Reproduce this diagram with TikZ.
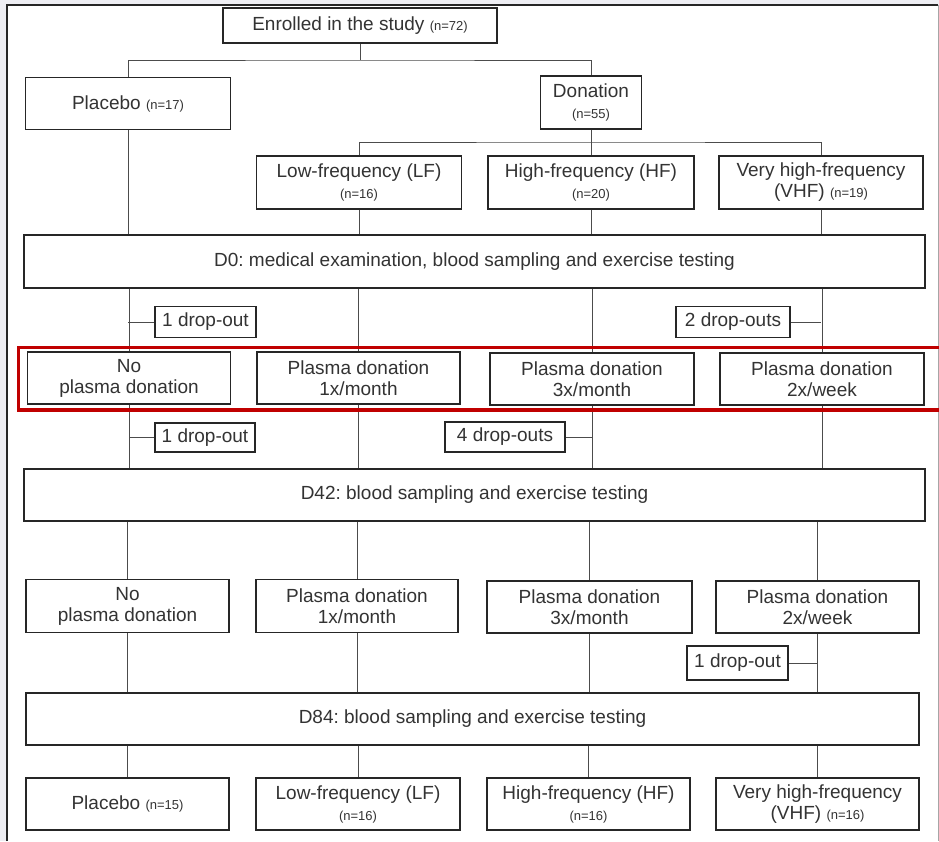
\documentclass[tikz,border=0pt]{standalone}
\usepackage{fontspec}
\setmainfont{Liberation Sans}
\usepackage{xcolor}
\usepackage{tikz}
\usetikzlibrary{positioning}
\definecolor{pagegray}{HTML}{EEEEF3}
\definecolor{markred}{HTML}{C00000}
\newcommand{\nsm}[1]{{\fontsize{13}{15}\selectfont #1}}
\frenchspacing
\tikzset{
  box/.style={draw=black!85, line width=1.2pt, fill=white, align=center, text=black!80,
    font=\fontsize{19}{21}\selectfont, minimum height=52pt, inner sep=1pt},
  dropbox/.style={box, minimum height=31pt},
  conn/.style={draw=black!70, line width=1pt}
}
\begin{document}
\begin{tikzpicture}[x=1pt,y=-1pt]
\useasboundingbox (0,0) rectangle (939,841);
\fill[pagegray] (0,0) rectangle (939,841);
\fill[white] (7,5) rectangle (938,841);
\draw[line width=0.8pt, black!35] (938,5) -- (938,841);
\draw[line width=2pt, black!85] (7,841) -- (7,5) -- (938,5);

\node[box, minimum width=274pt, minimum height=35pt] (enrol) at (360,25.5) {Enrolled in the study \nsm{(n=72)}};
\node[box, minimum width=205pt] (plac) at (128,103.5) {Placebo \nsm{(n=17)}};
\node[box, minimum width=101pt, minimum height=53pt] (don) at (591,102.5) {Donation\\\nsm{(n=55)}};
\node[box, minimum width=205pt, minimum height=53pt] (lf) at (359,182.5) {Low-frequency (LF)\\\nsm{(n=16)}};
\node[box, minimum width=206pt, minimum height=53pt] (hf) at (591,182.5) {High-frequency (HF)\\\nsm{(n=20)}};
\node[box, minimum width=204pt, minimum height=53pt] (vhf) at (821,182.5) {Very high-frequency\\(VHF) \nsm{(n=19)}};
\node[box, minimum width=901pt, minimum height=53pt] (d0) at (474.5,261.5) {D0: medical examination, blood sampling and exercise testing};
\node[dropbox, minimum width=101pt] (do1) at (205.5,322) {1 drop-out};
\node[dropbox, minimum width=114pt] (do2) at (733,322) {2 drop-outs};

\node[box, minimum width=203pt] (no1) at (129,378) {No\\plasma donation};
\node[box, minimum width=203pt] (m1a) at (358.5,378) {Plasma donation\\1x/month};
\node[box, minimum width=204pt] (m3a) at (592,379) {Plasma donation\\3x/month};
\node[box, minimum width=204pt] (w2a) at (822,379) {Plasma donation\\2x/week};
\node[dropbox, minimum width=100pt, minimum height=29pt] (do3) at (205,437.5) {1 drop-out};
\node[dropbox, minimum width=120pt, minimum height=30pt] (do4) at (505,437) {4 drop-outs};
\node[box, minimum width=901pt] (d42) at (474.5,495) {D42: blood sampling and exercise testing};

\node[box, minimum width=203pt, minimum height=53pt] (no2) at (127.5,606) {No\\plasma donation};
\node[box, minimum width=202pt, minimum height=53pt] (m1b) at (357,606) {Plasma donation\\1x/month};
\node[box, minimum width=205pt] (m3b) at (589.5,607) {Plasma donation\\3x/month};
\node[box, minimum width=203pt] (w2b) at (817.5,607) {Plasma donation\\2x/week};
\node[dropbox, minimum width=101pt, minimum height=34pt] (do5) at (737.5,663) {1 drop-out};
\node[box, minimum width=893pt] (d84) at (472.5,719) {D84: blood sampling and exercise testing};

\node[box, minimum width=203pt] (pl2) at (127.5,804) {Placebo \nsm{(n=15)}};
\node[box, minimum width=204pt] (lf2) at (358,804) {Low-frequency (LF)\\\nsm{(n=16)}};
\node[box, minimum width=203pt] (hf2) at (588.5,804) {High-frequency (HF)\\\nsm{(n=16)}};
\node[box, minimum width=203pt] (vhf2) at (817.5,804) {Very high-frequency\\(VHF) \nsm{(n=16)}};

\coordinate (s1) at (360,60);
\coordinate (s2) at (591,142);
\draw[conn] (enrol) -- (s1);
\draw[conn] (plac.north) |- (s1) -| (don.north);
\draw[conn] (don) -- (s2);
\draw[conn] (lf.north) |- (s2) -| (vhf.north);
\draw[conn] (s2) -- (hf.north);

\foreach \nd in {plac,lf,hf,vhf}
  \draw[conn] (\nd.south) -- (\nd.south |- d0.north);
\foreach \nd in {no1,m1a,m3a,w2a}{
  \draw[conn] (d0.south -| \nd.north) -- (\nd.north);
  \draw[conn] (\nd.south) -- (\nd.south |- d42.north);
}
\foreach \nd in {no2,m1b,m3b,w2b}{
  \draw[conn] (d42.south -| \nd.north) -- (\nd.north);
  \draw[conn] (\nd.south) -- (\nd.south |- d84.north);
}
\foreach \nd in {pl2,lf2,hf2,vhf2}
  \draw[conn] (d84.south -| \nd.north) -- (\nd.north);

\draw[conn] (do1.west) -- (do1.west -| plac.south);
\draw[conn] (do2.east) -- (do2.east -| vhf.south);
\draw[conn] (do3.west) -- (do3.west -| no1.south);
\draw[conn] (do4.east) -- (do4.east -| m3a.south);
\draw[conn] (do5.east) -- (do5.east -| w2b.south);

\draw[markred, line width=3.5pt] (18.5,347.5) rectangle (948,410);
\end{tikzpicture}
\end{document}
